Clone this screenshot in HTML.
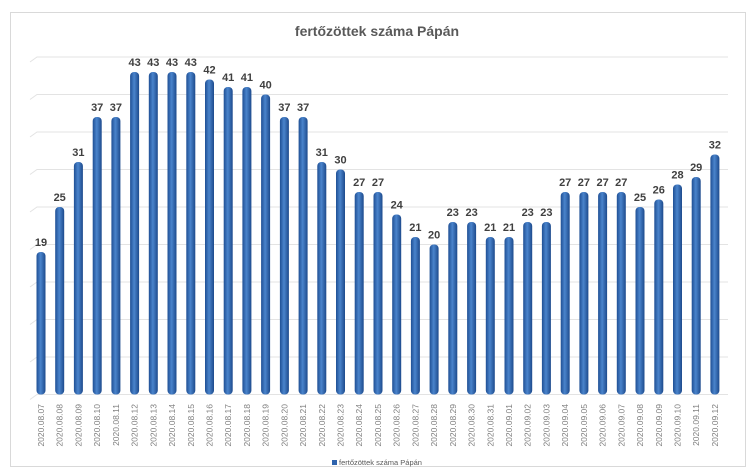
<!DOCTYPE html>
<html><head><meta charset="utf-8"><style>
html,body{margin:0;padding:0;background:#fff;}
svg{display:block;font-family:"Liberation Sans",sans-serif;}
</style></head><body>
<svg width="755" height="470" viewBox="0 0 755 470" xmlns="http://www.w3.org/2000/svg">
<defs>
<linearGradient id="g" x1="0" x2="1" y1="0" y2="0">
<stop offset="0" stop-color="#1f4f94"/><stop offset="0.45" stop-color="#4a84cc"/><stop offset="1" stop-color="#1d4a8c"/>
</linearGradient>
</defs>
<rect x="10.5" y="12.5" width="735" height="454" fill="#fff" stroke="#d9d9d9"/>
<text x="377" y="36" text-anchor="middle" font-size="14" font-weight="bold" fill="#595959">fertőzöttek száma Pápán</text>
<g stroke="#e3e3e3" stroke-width="1" fill="none">
<path d="M30 62 L37 57 H728"/><path d="M30 99.5 L37 94.5 H728"/><path d="M30 137 L37 132 H728"/><path d="M30 174.5 L37 169.5 H728"/><path d="M30 212 L37 207 H728"/><path d="M30 249.5 L37 244.5 H728"/><path d="M30 287 L37 282 H728"/><path d="M30 324.5 L37 319.5 H728"/><path d="M30 362 L37 357 H728"/><path d="M30 399.5 L37 394.5 H728"/>
</g>
<g fill="url(#g)">
<rect x="36.5" y="252" width="9" height="142.5" rx="4"/>
<rect x="55.2" y="207" width="9" height="187.5" rx="4"/>
<rect x="73.9" y="162" width="9" height="232.5" rx="4"/>
<rect x="92.7" y="117" width="9" height="277.5" rx="4"/>
<rect x="111.4" y="117" width="9" height="277.5" rx="4"/>
<rect x="130.1" y="72" width="9" height="322.5" rx="4"/>
<rect x="148.8" y="72" width="9" height="322.5" rx="4"/>
<rect x="167.5" y="72" width="9" height="322.5" rx="4"/>
<rect x="186.3" y="72" width="9" height="322.5" rx="4"/>
<rect x="205" y="79.5" width="9" height="315" rx="4"/>
<rect x="223.7" y="87" width="9" height="307.5" rx="4"/>
<rect x="242.4" y="87" width="9" height="307.5" rx="4"/>
<rect x="261.1" y="94.5" width="9" height="300" rx="4"/>
<rect x="279.9" y="117" width="9" height="277.5" rx="4"/>
<rect x="298.6" y="117" width="9" height="277.5" rx="4"/>
<rect x="317.3" y="162" width="9" height="232.5" rx="4"/>
<rect x="336" y="169.5" width="9" height="225" rx="4"/>
<rect x="354.7" y="192" width="9" height="202.5" rx="4"/>
<rect x="373.5" y="192" width="9" height="202.5" rx="4"/>
<rect x="392.2" y="214.5" width="9" height="180" rx="4"/>
<rect x="410.9" y="237" width="9" height="157.5" rx="4"/>
<rect x="429.6" y="244.5" width="9" height="150" rx="4"/>
<rect x="448.3" y="222" width="9" height="172.5" rx="4"/>
<rect x="467.1" y="222" width="9" height="172.5" rx="4"/>
<rect x="485.8" y="237" width="9" height="157.5" rx="4"/>
<rect x="504.5" y="237" width="9" height="157.5" rx="4"/>
<rect x="523.2" y="222" width="9" height="172.5" rx="4"/>
<rect x="541.9" y="222" width="9" height="172.5" rx="4"/>
<rect x="560.7" y="192" width="9" height="202.5" rx="4"/>
<rect x="579.4" y="192" width="9" height="202.5" rx="4"/>
<rect x="598.1" y="192" width="9" height="202.5" rx="4"/>
<rect x="616.8" y="192" width="9" height="202.5" rx="4"/>
<rect x="635.5" y="207" width="9" height="187.5" rx="4"/>
<rect x="654.3" y="199.5" width="9" height="195" rx="4"/>
<rect x="673" y="184.5" width="9" height="210" rx="4"/>
<rect x="691.7" y="177" width="9" height="217.5" rx="4"/>
<rect x="710.4" y="154.5" width="9" height="240" rx="4"/>
</g>
<g font-size="11" font-weight="bold" fill="#404040" text-anchor="middle">
<text x="41" y="246">19</text><text x="59.7" y="201">25</text><text x="78.4" y="156">31</text><text x="97.2" y="111">37</text><text x="115.9" y="111">37</text><text x="134.6" y="66">43</text><text x="153.3" y="66">43</text><text x="172" y="66">43</text><text x="190.8" y="66">43</text><text x="209.5" y="73.5">42</text><text x="228.2" y="81">41</text><text x="246.9" y="81">41</text><text x="265.6" y="88.5">40</text><text x="284.4" y="111">37</text><text x="303.1" y="111">37</text><text x="321.8" y="156">31</text><text x="340.5" y="163.5">30</text><text x="359.2" y="186">27</text><text x="378" y="186">27</text><text x="396.7" y="208.5">24</text><text x="415.4" y="231">21</text><text x="434.1" y="238.5">20</text><text x="452.8" y="216">23</text><text x="471.6" y="216">23</text><text x="490.3" y="231">21</text><text x="509" y="231">21</text><text x="527.7" y="216">23</text><text x="546.4" y="216">23</text><text x="565.2" y="186">27</text><text x="583.9" y="186">27</text><text x="602.6" y="186">27</text><text x="621.3" y="186">27</text><text x="640" y="201">25</text><text x="658.8" y="193.5">26</text><text x="677.5" y="178.5">28</text><text x="696.2" y="171">29</text><text x="714.9" y="148.5">32</text>
</g>
<g font-size="8.5" fill="#7f7f7f" text-anchor="end">
<text transform="translate(44,404) rotate(-90)">2020.08.07</text>
<text transform="translate(62.7,404) rotate(-90)">2020.08.08</text>
<text transform="translate(81.4,404) rotate(-90)">2020.08.09</text>
<text transform="translate(100.2,404) rotate(-90)">2020.08.10</text>
<text transform="translate(118.9,404) rotate(-90)">2020.08.11</text>
<text transform="translate(137.6,404) rotate(-90)">2020.08.12</text>
<text transform="translate(156.3,404) rotate(-90)">2020.08.13</text>
<text transform="translate(175,404) rotate(-90)">2020.08.14</text>
<text transform="translate(193.8,404) rotate(-90)">2020.08.15</text>
<text transform="translate(212.5,404) rotate(-90)">2020.08.16</text>
<text transform="translate(231.2,404) rotate(-90)">2020.08.17</text>
<text transform="translate(249.9,404) rotate(-90)">2020.08.18</text>
<text transform="translate(268.6,404) rotate(-90)">2020.08.19</text>
<text transform="translate(287.4,404) rotate(-90)">2020.08.20</text>
<text transform="translate(306.1,404) rotate(-90)">2020.08.21</text>
<text transform="translate(324.8,404) rotate(-90)">2020.08.22</text>
<text transform="translate(343.5,404) rotate(-90)">2020.08.23</text>
<text transform="translate(362.2,404) rotate(-90)">2020.08.24</text>
<text transform="translate(381,404) rotate(-90)">2020.08.25</text>
<text transform="translate(399.7,404) rotate(-90)">2020.08.26</text>
<text transform="translate(418.4,404) rotate(-90)">2020.08.27</text>
<text transform="translate(437.1,404) rotate(-90)">2020.08.28</text>
<text transform="translate(455.8,404) rotate(-90)">2020.08.29</text>
<text transform="translate(474.6,404) rotate(-90)">2020.08.30</text>
<text transform="translate(493.3,404) rotate(-90)">2020.08.31</text>
<text transform="translate(512,404) rotate(-90)">2020.09.01</text>
<text transform="translate(530.7,404) rotate(-90)">2020.09.02</text>
<text transform="translate(549.4,404) rotate(-90)">2020.09.03</text>
<text transform="translate(568.2,404) rotate(-90)">2020.09.04</text>
<text transform="translate(586.9,404) rotate(-90)">2020.09.05</text>
<text transform="translate(605.6,404) rotate(-90)">2020.09.06</text>
<text transform="translate(624.3,404) rotate(-90)">2020.09.07</text>
<text transform="translate(643,404) rotate(-90)">2020.09.08</text>
<text transform="translate(661.8,404) rotate(-90)">2020.09.09</text>
<text transform="translate(680.5,404) rotate(-90)">2020.09.10</text>
<text transform="translate(699.2,404) rotate(-90)">2020.09.11</text>
<text transform="translate(717.9,404) rotate(-90)">2020.09.12</text>
</g>
<rect x="332" y="460" width="5" height="5" fill="#2e63ad"/>
<text x="339" y="465" font-size="7.5" fill="#595959">fertőzöttek száma Pápán</text>
</svg>
</body></html>
